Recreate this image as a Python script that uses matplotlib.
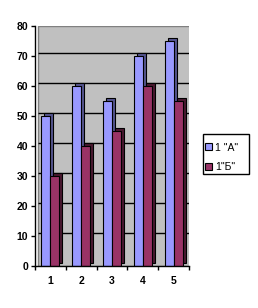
import matplotlib
matplotlib.use("Agg")
import matplotlib.pyplot as plt
import matplotlib.transforms as mtransforms
from matplotlib.patches import Rectangle
import numpy as np

plt.rcParams['font.family'] = ['Liberation Sans', 'DejaVu Sans']

# data
categories = ['1', '2', '3', '4', '5']
series_names = ['1 "А"', '1"Б"']
values_a = [50, 60, 55, 70, 75]
values_b = [30, 40, 45, 60, 55]

front_colors = ['#9999ff', '#993366']
side_colors = ['#55558f', '#4a1930']

W, H = 258, 308
fig = plt.figure(figsize=(W / 100, H / 100), dpi=100)
ax = fig.add_axes([35 / W, 42 / H, 154 / W, 240 / H])
ax.set_facecolor('none')

# depth offset of the fake 3D look
dx = mtransforms.ScaledTranslation(3 / 100, 0, fig.dpi_scale_trans)
dxy = mtransforms.ScaledTranslation(3 / 100, 3 / 100, fig.dpi_scale_trans)

# back wall
wall = Rectangle((0, 0), 1, 1, transform=ax.transAxes + dx,
                 facecolor='#c0c0c0', edgecolor='#808080', lw=1, zorder=0)
ax.add_patch(wall)

x = np.arange(1, len(categories) + 1)
ax.set_xlim(0.5, len(categories) + 0.5)
ax.set_ylim(0, 80)

# gridlines on the wall
ax.hlines(np.arange(10, 80, 10), 0.5, len(categories) + 0.5,
          colors='black', lw=1, transform=ax.transData + dxy, zorder=1)

width = 0.29
for vals, off, fc, sc, name in [(values_a, -width / 2, front_colors[0], side_colors[0], series_names[0]),
                                (values_b, width / 2, front_colors[1], side_colors[1], series_names[1])]:
    ax.bar(x + off, vals, width, color=sc, edgecolor='black', lw=0.8,
           transform=ax.transData + dxy, zorder=2)
    ax.bar(x + off, vals, width, color=fc, edgecolor='black', lw=0.8,
           zorder=3, label=name)

# axes look
for s in ['top', 'right']:
    ax.spines[s].set_visible(False)
for s in ['left', 'bottom']:
    ax.spines[s].set_linewidth(1)
    ax.spines[s].set_zorder(4)

ax.set_yticks(np.arange(0, 81, 10))
ax.tick_params(axis='y', length=3, width=1, pad=2, labelsize=7.5)
for lab in ax.get_yticklabels():
    lab.set_fontweight('bold')

ax.set_xticks(np.arange(0.5, len(categories) + 1, 1))
ax.set_xticklabels([])
ax.set_xticks(x, minor=True)
ax.set_xticklabels(categories, minor=True, fontsize=7.5, fontweight='bold')
ax.tick_params(axis='x', which='major', length=3, width=1)
ax.tick_params(axis='x', which='minor', length=0, pad=7)

# legend box drawn separately (Excel keeps extra room at the top)
fig.patches.append(Rectangle((203 / W, 1 - 174 / H), 46 / W, 40 / H,
                             transform=fig.transFigure, fill=False,
                             edgecolor='black', lw=1))
leg = fig.legend(loc='center left', bbox_to_anchor=(205 / W, 1 - 157.5 / H),
                 fontsize=7.5, frameon=False,
                 handlelength=0.65, handleheight=0.65, handletextpad=0.35,
                 borderpad=0, labelspacing=0.95, borderaxespad=0)
for h in leg.legend_handles:
    h.set_edgecolor('black')
    h.set_linewidth(0.8)

fig.savefig('out.png', dpi=100)
